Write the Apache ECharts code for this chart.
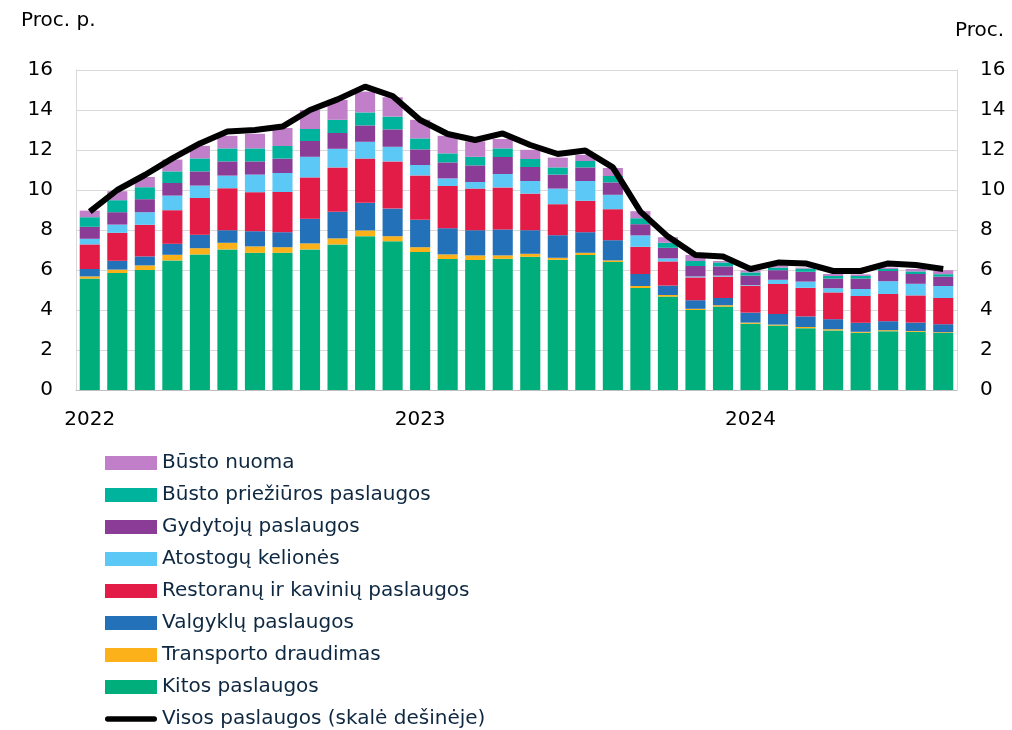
<!DOCTYPE html>
<html>
<head>
<meta charset="utf-8">
<script src="https://cdn.jsdelivr.net/npm/echarts@6/dist/echarts.min.js"></script>
<style>
    html, body { margin: 0; padding: 0; background: #fff; }
    #chart { width: 1012px; height: 730px; }
</style>
</head>
<body>
<div id="chart"></div>
<script>
// Months (Jan 2022 - Aug 2024)
var months = [
    '2022-01', '2022-02', '2022-03', '2022-04', '2022-05', '2022-06', '2022-07', '2022-08', '2022-09', '2022-10', '2022-11', '2022-12',
    '2023-01', '2023-02', '2023-03', '2023-04', '2023-05', '2023-06', '2023-07', '2023-08', '2023-09', '2023-10', '2023-11', '2023-12',
    '2024-01', '2024-02', '2024-03', '2024-04', '2024-05', '2024-06', '2024-07', '2024-08'
];

// Contributions, proc. p.
var kitos = [5.57, 5.85, 6.00, 6.48, 6.78, 7.03, 6.86, 6.86, 7.03, 7.28, 7.69, 7.44, 6.90, 6.55, 6.50, 6.56, 6.66, 6.51, 6.75, 6.40, 5.10, 4.67, 4.00, 4.17, 3.31, 3.22, 3.09, 2.98, 2.86, 2.94, 2.91, 2.85];
var transportas = [0.11, 0.17, 0.23, 0.28, 0.31, 0.33, 0.32, 0.28, 0.30, 0.30, 0.29, 0.25, 0.24, 0.23, 0.23, 0.17, 0.15, 0.10, 0.11, 0.08, 0.10, 0.08, 0.06, 0.07, 0.06, 0.05, 0.06, 0.06, 0.05, 0.05, 0.04, 0.04];
var valgyklos = [0.37, 0.44, 0.45, 0.55, 0.67, 0.63, 0.76, 0.75, 1.23, 1.33, 1.38, 1.38, 1.37, 1.31, 1.26, 1.30, 1.18, 1.13, 1.03, 1.01, 0.60, 0.47, 0.43, 0.36, 0.50, 0.53, 0.53, 0.50, 0.45, 0.45, 0.42, 0.40];
var restoranai = [1.23, 1.40, 1.58, 1.68, 1.84, 2.10, 1.95, 2.01, 2.07, 2.22, 2.21, 2.36, 2.22, 2.11, 2.08, 2.10, 1.83, 1.55, 1.57, 1.55, 1.36, 1.21, 1.14, 1.07, 1.35, 1.50, 1.43, 1.34, 1.34, 1.36, 1.36, 1.31];
var atostogos = [0.28, 0.41, 0.63, 0.73, 0.62, 0.63, 0.88, 0.95, 1.03, 0.93, 0.84, 0.73, 0.52, 0.38, 0.33, 0.67, 0.63, 0.78, 0.99, 0.72, 0.57, 0.15, 0.05, 0.05, 0.03, 0.21, 0.31, 0.21, 0.35, 0.64, 0.58, 0.60];
var gydytojai = [0.60, 0.62, 0.65, 0.63, 0.71, 0.71, 0.66, 0.72, 0.79, 0.79, 0.82, 0.87, 0.78, 0.80, 0.83, 0.85, 0.70, 0.70, 0.68, 0.62, 0.56, 0.53, 0.52, 0.46, 0.47, 0.48, 0.49, 0.48, 0.52, 0.51, 0.49, 0.47];
var bustoPriez = [0.48, 0.60, 0.60, 0.58, 0.65, 0.65, 0.65, 0.63, 0.60, 0.66, 0.65, 0.64, 0.55, 0.45, 0.43, 0.43, 0.40, 0.36, 0.32, 0.32, 0.30, 0.25, 0.25, 0.20, 0.16, 0.13, 0.16, 0.13, 0.13, 0.10, 0.13, 0.12];
var bustoNuoma = [0.33, 0.45, 0.51, 0.59, 0.63, 0.63, 0.73, 0.90, 0.95, 1.00, 1.04, 0.97, 0.93, 0.88, 0.77, 0.47, 0.46, 0.49, 0.31, 0.40, 0.35, 0.28, 0.30, 0.07, 0.10, 0.08, 0.05, 0.10, 0.08, 0.07, 0.12, 0.20];

// All services, proc. (right axis)
var visos = [8.92, 10.0, 10.75, 11.58, 12.33, 12.92, 13.0, 13.17, 14.0, 14.53, 15.17, 14.7, 13.5, 12.8, 12.5, 12.83, 12.25, 11.8, 11.97, 11.13, 8.92, 7.67, 6.75, 6.67, 6.05, 6.37, 6.33, 5.95, 5.95, 6.33, 6.25, 6.05];

document.addEventListener('DOMContentLoaded', function() {
    var font = '"DejaVu Sans", "Open Sans", sans-serif';
    var fs = 20;
    var chart = echarts.init(document.getElementById('chart'), null, { renderer: 'canvas' });

    function bar(name, data, color) {
        return {
            name: name,
            type: 'bar',
            stack: 'total',
            barWidth: '73%',
            itemStyle: { color: color },
            data: data
        };
    }

    var lineIcon = 'path://M3,0 L53,0 A3,3 0 0 1 53,6 L3,6 A3,3 0 0 1 3,0 Z';

    var option = {
        animation: false,
        textStyle: { fontFamily: font },
        title: [
            { text: 'Proc. p.', left: 16, top: 6, textStyle: { fontFamily: font, fontSize: fs, fontWeight: 'normal', color: '#000' } },
            { text: 'Proc.', right: 3, top: 16, textStyle: { fontFamily: font, fontSize: fs, fontWeight: 'normal', color: '#000' } }
        ],
        grid: { left: 76, right: 55, top: 70, bottom: 340 },
        legend: {
            orient: 'vertical',
            left: 100,
            top: 448,
            height: 300,
            itemWidth: 52,
            itemHeight: 14,
            itemGap: 12,
            textStyle: { fontFamily: font, fontSize: fs, lineHeight: 20, color: '#0E2841' },
            data: [
                { name: 'Būsto nuoma', icon: 'rect' },
                { name: 'Būsto priežiūros paslaugos', icon: 'rect' },
                { name: 'Gydytojų paslaugos', icon: 'rect' },
                { name: 'Atostogų kelionės', icon: 'rect' },
                { name: 'Restoranų ir kavinių paslaugos', icon: 'rect' },
                { name: 'Valgyklų paslaugos', icon: 'rect' },
                { name: 'Transporto draudimas', icon: 'rect' },
                { name: 'Kitos paslaugos', icon: 'rect' },
                { name: 'Visos paslaugos (skalė dešinėje)', icon: lineIcon }
            ]
        },
        xAxis: {
            type: 'category',
            data: months,
            axisLine: { lineStyle: { color: '#bfbfbf', width: 1 } },
            axisTick: { show: false },
            axisLabel: {
                interval: 11,
                margin: 20,
                fontFamily: font,
                fontSize: fs,
                color: '#000',
                formatter: function(v) { return v.slice(0, 4); }
            }
        },
        yAxis: [
            {
                type: 'value',
                min: 0,
                max: 16,
                interval: 2,
                axisLine: { show: true, lineStyle: { color: '#d9d9d9' } },
                axisTick: { show: false },
                splitLine: { lineStyle: { color: '#d9d9d9', width: 1 } },
                axisLabel: { margin: 23, fontFamily: font, fontSize: fs, color: '#000' }
            },
            {
                type: 'value',
                min: 0,
                max: 16,
                interval: 2,
                position: 'right',
                axisLine: { show: true, lineStyle: { color: '#d9d9d9' } },
                axisTick: { show: false },
                splitLine: { show: false },
                axisLabel: { margin: 23, fontFamily: font, fontSize: fs, color: '#000' }
            }
        ],
        series: [
            bar('Kitos paslaugos', kitos, '#00AE7B'),
            bar('Transporto draudimas', transportas, '#FCB11B'),
            bar('Valgyklų paslaugos', valgyklos, '#2372B9'),
            bar('Restoranų ir kavinių paslaugos', restoranai, '#E31C47'),
            bar('Atostogų kelionės', atostogos, '#5BC8F5'),
            bar('Gydytojų paslaugos', gydytojai, '#8B3C97'),
            bar('Būsto priežiūros paslaugos', bustoPriez, '#00B39C'),
            bar('Būsto nuoma', bustoNuoma, '#C27FC9'),
            {
                name: 'Visos paslaugos (skalė dešinėje)',
                type: 'line',
                yAxisIndex: 1,
                symbol: 'none',
                z: 10,
                itemStyle: { color: '#000' },
                lineStyle: { color: '#000', width: 6 },
                data: visos
            }
        ]
    };
    chart.setOption(option);
});
</script>
</body>
</html>
